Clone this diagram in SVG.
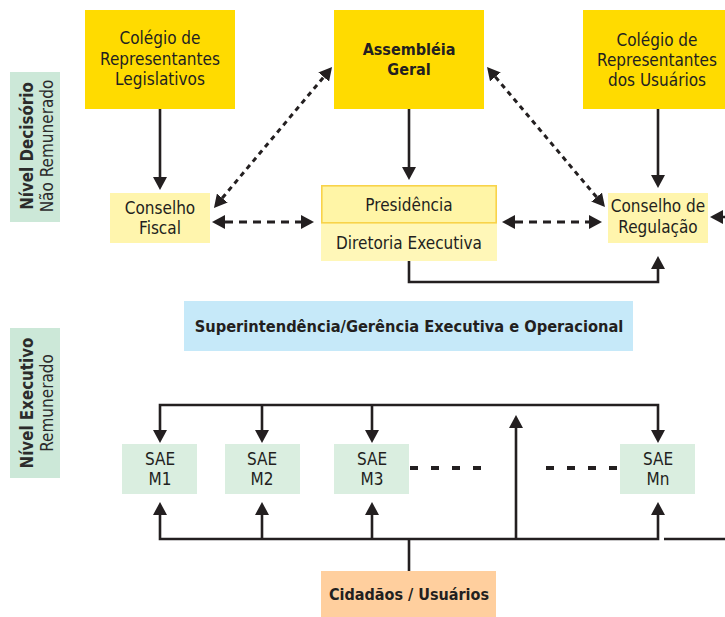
<svg xmlns="http://www.w3.org/2000/svg" width="725" height="617" viewBox="0 0 725 617">
<style>
text{font-family:"DejaVu Sans Condensed","DejaVu Sans",sans-serif;font-size:17px;fill:#231f20;text-anchor:middle}
.b{font-weight:bold;font-size:16px}
.vb{font-weight:bold;font-size:16.8px}
.vn{font-size:17px}
.y{fill:#ffdb00}
.py{fill:#fff5ad}
.g{fill:#daeee0}
.lbl{fill:#cce8d8}
.lt{fill:#2b2b2b}
.ln{fill:none;stroke:#231f20;stroke-width:2.6}
.dash{stroke-dasharray:8 6;stroke-width:3}
.dot{stroke-dasharray:5 4.5;stroke-width:3}
.sd{fill:none;stroke:#231f20;stroke-width:4;stroke-dasharray:8 13}
</style>
<defs>
<marker id="ah" viewBox="0 -7 13 14" refX="0" refY="0" markerWidth="13" markerHeight="14" markerUnits="userSpaceOnUse" orient="auto-start-reverse">
<path d="M0,-7 L13,0 L0,7 Z" fill="#231f20"/>
</marker>
</defs>

<g id="label-decisorio">
<rect class="lbl" x="10" y="72" width="50" height="150"/>
<text class="vb lt" transform="translate(32.5,146) rotate(-90)">Nível Decisório</text>
<text class="lt vn" transform="translate(52.5,146) rotate(-90)">Não Remunerado</text>
</g>
<g id="label-executivo">
<rect class="lbl" x="10" y="328" width="50" height="150"/>
<text class="vb lt" transform="translate(32.5,403) rotate(-90)">Nível Executivo</text>
<text class="lt vn" transform="translate(52.5,403) rotate(-90)">Remunerado</text>
</g>

<g id="colegio-legislativos">
<rect class="y" x="85" y="10" width="150" height="99"/>
<text x="160" y="44">Colégio de</text>
<text x="160" y="65">Representantes</text>
<text x="160" y="85">Legislativos</text>
</g>
<g id="assembleia">
<rect class="y" x="334" y="10" width="150" height="99"/>
<text class="b" x="409" y="55">Assembléia</text>
<text class="b" x="409" y="75">Geral</text>
</g>
<g id="colegio-usuarios">
<rect class="y" x="583" y="10" width="150" height="99"/>
<text x="657" y="46">Colégio de</text>
<text x="657" y="66">Representantes</text>
<text x="657" y="86">dos Usuários</text>
</g>
<g id="conselho-fiscal">
<rect class="py" x="110" y="193" width="100" height="50"/>
<text x="160" y="214">Conselho</text>
<text x="160" y="234">Fiscal</text>
</g>
<g id="presidencia">
<rect x="321" y="223" width="176" height="38" fill="#fff7b8"/>
<rect x="321.8" y="185.8" width="174.4" height="37" fill="#fff5a6" stroke="#f8d34a" stroke-width="1.6"/>
<text x="409" y="211">Presidência</text>
<text x="409" y="249">Diretoria Executiva</text>
</g>
<g id="conselho-regulacao">
<rect class="py" x="608" y="193" width="100" height="50"/>
<text x="658" y="212">Conselho de</text>
<text x="658" y="233">Regulação</text>
</g>
<g id="superintendencia">
<rect x="184" y="301" width="449" height="50" fill="#c6e9f9"/>
<text class="b" x="409" y="332" style="font-size:16.3px">Superintendência/Gerência Executiva e Operacional</text>
</g>
<g id="sae-m1">
<rect class="g" x="122" y="444" width="75" height="50"/>
<text x="160" y="465">SAE</text>
<text x="160" y="485">M1</text>
</g>
<g id="sae-m2">
<rect class="g" x="225" y="444" width="75" height="50"/>
<text x="262" y="465">SAE</text>
<text x="262" y="485">M2</text>
</g>
<g id="sae-m3">
<rect class="g" x="334" y="444" width="75" height="50"/>
<text x="372" y="465">SAE</text>
<text x="372" y="485">M3</text>
</g>
<g id="sae-mn">
<rect class="g" x="620" y="444" width="75" height="50"/>
<text x="658" y="465">SAE</text>
<text x="658" y="485">Mn</text>
</g>
<g id="cidadaos">
<rect x="321" y="571" width="175" height="50" fill="#ffcf9e"/>
<text class="b" x="409" y="600">Cidadãos / Usuários</text>
</g>

<g id="connectors">
<line class="ln" x1="160" y1="109" x2="160" y2="177" marker-end="url(#ah)"/>
<line class="ln" x1="409" y1="109" x2="409" y2="167" marker-end="url(#ah)"/>
<line class="ln" x1="658" y1="109" x2="658" y2="175" marker-end="url(#ah)"/>
<path class="ln" d="M409,261 V282 H658 V269" marker-end="url(#ah)"/>
<line class="ln" x1="740" y1="217" x2="723" y2="217" marker-end="url(#ah)"/>
<line class="ln dash" x1="225" y1="222" x2="301" y2="222" marker-start="url(#ah)" marker-end="url(#ah)"/>
<line class="ln dash" x1="515" y1="222" x2="589" y2="222" marker-start="url(#ah)" marker-end="url(#ah)"/>
<line class="ln dot" x1="222.3" y1="198" x2="323.7" y2="77" marker-start="url(#ah)" marker-end="url(#ah)"/>
<line class="ln dot" x1="495.4" y1="76.9" x2="596.6" y2="197.1" marker-start="url(#ah)" marker-end="url(#ah)"/>
<path class="ln" d="M160,430 V405 H658 V430" marker-start="url(#ah)" marker-end="url(#ah)"/>
<line class="ln" x1="262" y1="405" x2="262" y2="430" marker-end="url(#ah)"/>
<line class="ln" x1="372" y1="405" x2="372" y2="430" marker-end="url(#ah)"/>
<line class="ln" x1="516" y1="539" x2="516" y2="428" marker-end="url(#ah)"/>
<path class="ln" d="M160,515 V539 H658 V515" marker-start="url(#ah)" marker-end="url(#ah)"/>
<line class="ln" x1="262" y1="539" x2="262" y2="515" marker-end="url(#ah)"/>
<line class="ln" x1="372" y1="539" x2="372" y2="515" marker-end="url(#ah)"/>
<line class="ln" x1="664" y1="539" x2="725" y2="539"/>
<line class="ln" x1="409" y1="539" x2="409" y2="571"/>
<line class="sd" x1="410" y1="468" x2="481" y2="468"/>
<line class="sd" x1="546" y1="468" x2="619" y2="468"/>
</g>
</svg>
